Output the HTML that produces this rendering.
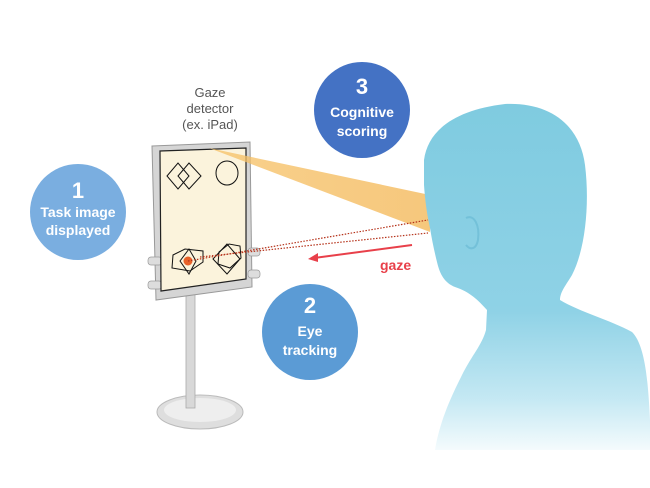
<!DOCTYPE html>
<html><head><meta charset="utf-8"><style>
html,body{margin:0;padding:0;background:#fff}
svg{display:block}
text{font-family:"Liberation Sans",sans-serif}
</style></head><body>
<svg width="650" height="488" viewBox="0 0 650 488" xmlns="http://www.w3.org/2000/svg">
<defs>
<linearGradient id="beam" x1="0" y1="0" x2="1" y2="0">
<stop offset="0" stop-color="#f6c36a" stop-opacity="0.9"/>
<stop offset="1" stop-color="#f3b24a" stop-opacity="0.85"/>
</linearGradient>
<linearGradient id="body" x1="0" y1="0" x2="0" y2="1">
<stop offset="0" stop-color="#7fcbe0"/>
<stop offset="0.6" stop-color="#8fd2e6"/>
<stop offset="0.85" stop-color="#c4e8f3"/>
<stop offset="1" stop-color="#f4fbfd"/>
</linearGradient>
</defs>
<!-- circles -->
<circle cx="78" cy="212" r="48" fill="#7aaee0"/>
<text x="78" y="198" font-size="22" fill="#fff" text-anchor="middle" font-weight="bold">1</text>
<text x="78" y="217" font-size="14" fill="#fff" text-anchor="middle" font-weight="bold">Task image</text>
<text x="78" y="235" font-size="14" fill="#fff" text-anchor="middle" font-weight="bold">displayed</text>
<circle cx="362" cy="110" r="48" fill="#4472c4"/>
<text x="362" y="94" font-size="22" fill="#fff" text-anchor="middle" font-weight="bold">3</text>
<text x="362" y="117" font-size="14" fill="#fff" text-anchor="middle" font-weight="bold">Cognitive</text>
<text x="362" y="136" font-size="14" fill="#fff" text-anchor="middle" font-weight="bold">scoring</text>
<circle cx="310" cy="332" r="48" fill="#5b9bd5"/>
<text x="310" y="313" font-size="22" fill="#fff" text-anchor="middle" font-weight="bold">2</text>
<text x="310" y="336" font-size="14" fill="#fff" text-anchor="middle" font-weight="bold">Eye</text>
<text x="310" y="355" font-size="14" fill="#fff" text-anchor="middle" font-weight="bold">tracking</text>
<!-- label -->
<text x="210" y="97" font-size="13" fill="#555" text-anchor="middle">Gaze</text>
<text x="210" y="113" font-size="13" fill="#555" text-anchor="middle">detector</text>
<text x="210" y="129" font-size="13" fill="#555" text-anchor="middle">(ex. iPad)</text>
<!-- stand -->
<ellipse cx="200" cy="412" rx="43" ry="17" fill="#dedede" stroke="#bbb"/>
<ellipse cx="200" cy="410" rx="36" ry="12" fill="#eee"/>
<rect x="186" y="290" width="9" height="118" fill="#d8d8d8" stroke="#aaa" stroke-width="0.8"/>
<!-- frame -->
<path d="M152 146 L250 142 L252 287 L156 300 Z" fill="#d5d5d5" stroke="#999" stroke-width="1"/>
<rect x="148" y="257" width="14" height="8" rx="3" fill="#ddd" stroke="#999" stroke-width="0.7"/>
<rect x="148" y="281" width="14" height="8" rx="3" fill="#ddd" stroke="#999" stroke-width="0.7"/>
<rect x="248" y="248" width="12" height="8" rx="3" fill="#ddd" stroke="#999" stroke-width="0.7"/>
<rect x="248" y="270" width="12" height="8" rx="3" fill="#ddd" stroke="#999" stroke-width="0.7"/>
<path d="M160 151 L246 148 L246 279 L161 291 Z" fill="#fbf3dc" stroke="#222" stroke-width="1.2"/>
<!-- shapes -->
<g fill="none" stroke="#111" stroke-width="1">
<path d="M167 176 L178 163 L189 176 L178 189 Z"/><path d="M178 176 L189 163 L201 176 L189 189 Z"/>
<ellipse cx="227" cy="173" rx="11" ry="12"/>
<path d="M173 255 L185 249 L203 251 L203 262 L190 271 L172 268 Z"/><path d="M180 261 L189 249 L196 261 L189 274 Z"/>
<path d="M213 259 L227 244 L240 259 L227 274 Z"/><path d="M219 252 L229 244 L240 246 L241 258 L230 268 L218 264 Z"/>
</g>
<circle cx="188" cy="261" r="4.5" fill="#e8622a"/>
<!-- beam -->
<path d="M209 148 L430 195 L430 232 Z" fill="url(#beam)" opacity="0.85"/>
<!-- dotted lines -->
<line x1="188" y1="261" x2="428" y2="220" stroke="#b5321a" stroke-width="1.2" stroke-dasharray="1.5,1.5"/>
<line x1="200" y1="257" x2="428" y2="233" stroke="#b5321a" stroke-width="1.2" stroke-dasharray="1.5,1.5"/>
<!-- gaze arrow -->
<line x1="412" y1="245" x2="314" y2="258" stroke="#e8404a" stroke-width="2"/>
<path d="M308 259 L318 253 L318 262 Z" fill="#e8404a"/>
<text x="380" y="270" font-size="14" fill="#e8404a" font-weight="bold">gaze</text>
<!-- person -->
<path d="M424 160 C428 130 455 110 505 104 C550 102 580 125 585 165 C590 205 585 250 572 275 C566 285 560 292 560 300 C580 312 610 320 632 332 C645 345 648 380 650 420 L650 450 L435 450 C440 420 452 395 462 375 C472 355 482 345 486 330 L487 310 C478 300 470 292 455 287 C445 283 440 275 437 262 C434 250 432 240 430 228 C427 215 425 200 424 185 Z" fill="url(#body)"/>
<path d="M466 218 C474 214 480 225 478 240 C476 250 470 250 466 245" fill="none" stroke="#6bbad4" stroke-width="2" opacity="0.7"/>
</svg>
</body></html>
